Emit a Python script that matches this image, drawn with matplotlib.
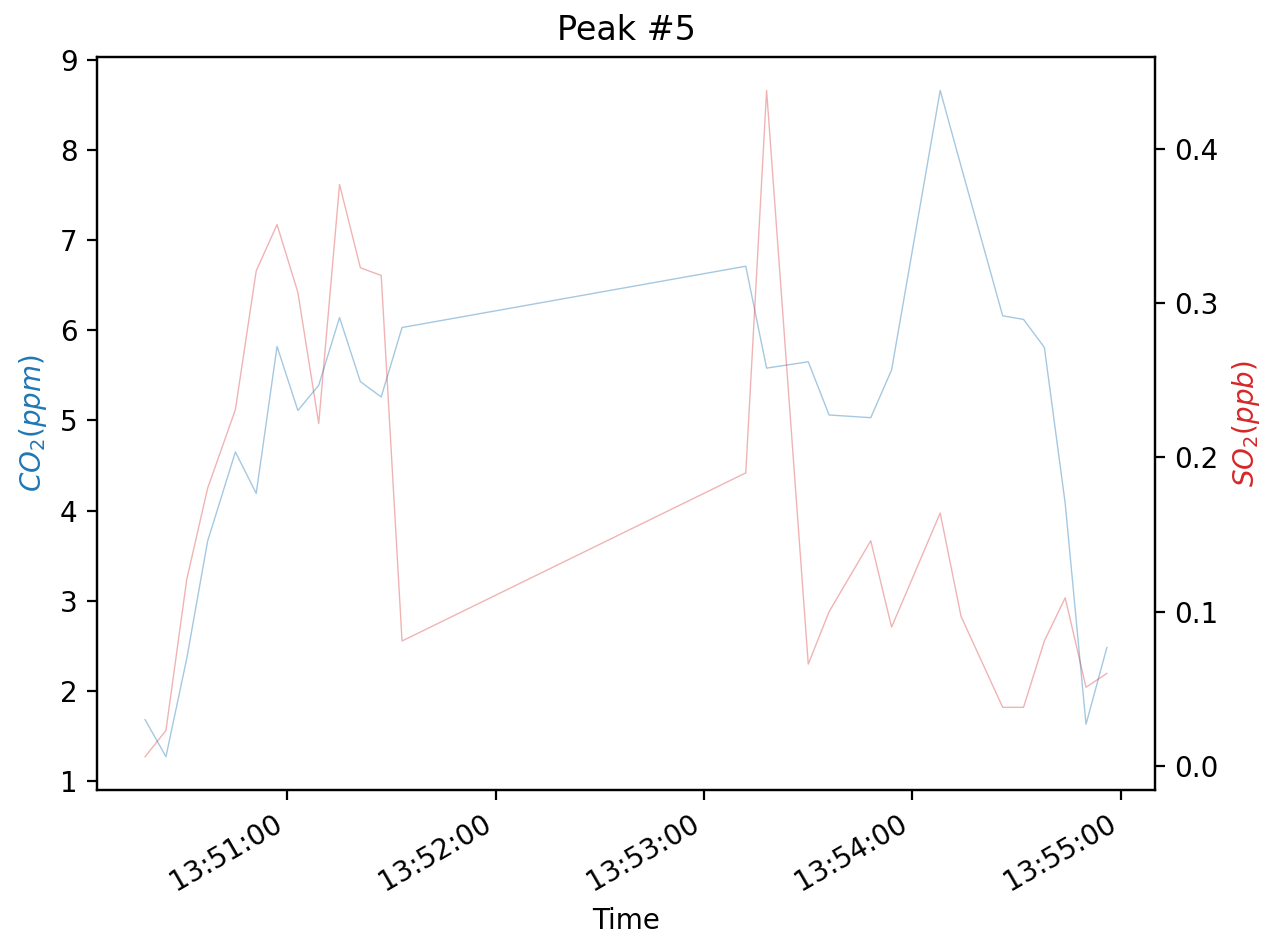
import numpy as np
import pandas as pd
import matplotlib
matplotlib.use('Agg')
import matplotlib.pyplot as plt
import matplotlib.dates as mdates

# sample times for the peak window
times = pd.to_datetime([
    '13:50:19', '13:50:25', '13:50:31', '13:50:37', '13:50:45', '13:50:51',
    '13:50:57', '13:51:03', '13:51:09', '13:51:15', '13:51:21', '13:51:27',
    '13:51:33', '13:53:12', '13:53:18', '13:53:30', '13:53:36', '13:53:48',
    '13:53:54', '13:54:08', '13:54:14', '13:54:26', '13:54:32', '13:54:38',
    '13:54:44', '13:54:50', '13:54:56',
], format='%H:%M:%S')

co2 = [1.68, 1.27, 2.36, 3.66, 4.65, 4.19, 5.82, 5.11, 5.39, 6.14, 5.43, 5.26,
       6.03, 6.71, 5.58, 5.65, 5.06, 5.03, 5.56, 8.66, 7.82, 6.16, 6.12, 5.81,
       4.08, 1.63, 2.48]

so2 = [0.006, 0.023, 0.121, 0.180, 0.231, 0.321, 0.351, 0.307, 0.222, 0.377,
       0.323, 0.318, 0.081, 0.190, 0.438, 0.066, 0.100, 0.146, 0.090, 0.164,
       0.097, 0.038, 0.038, 0.081, 0.109, 0.051, 0.060]

fig, ax1 = plt.subplots(figsize=(6.35, 4.68), dpi=200)

ax1.plot(times, co2, color='tab:blue', alpha=0.4, linewidth=0.5)
ax1.set_ylabel('$CO_2(ppm)$', color='tab:blue')
ax1.set_xlabel('Time')

ax2 = ax1.twinx()
ax2.plot(times, so2, color='tab:red', alpha=0.35, linewidth=0.5)
ax2.set_ylabel('$SO_2(ppb)$', color='tab:red')

ax1.xaxis.set_major_locator(mdates.MinuteLocator())
ax1.xaxis.set_major_formatter(mdates.DateFormatter('%H:%M:%S'))
fig.autofmt_xdate()
fig.subplots_adjust(left=0.0764, right=0.9094, top=0.939, bottom=0.156)

plt.title('Peak #5')
fig.savefig('out.png', dpi=200)
